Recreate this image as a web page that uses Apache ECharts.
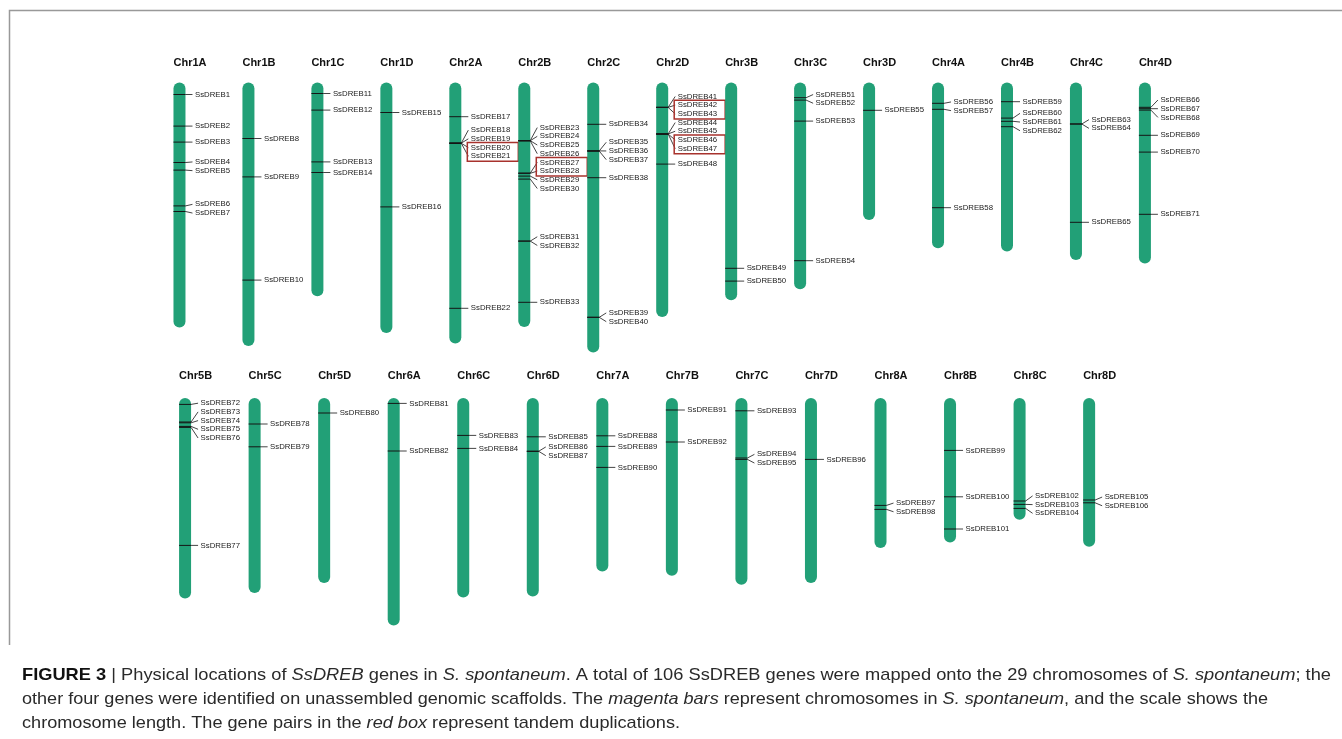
<!DOCTYPE html>
<html>
<head>
<meta charset="utf-8">
<title>SsDREB chromosome map</title>
<script src="https://cdn.jsdelivr.net/npm/echarts@6/dist/echarts.min.js"></script>
<style>
  html, body { margin: 0; padding: 0; background: #fff; }
  #main { width: 1342px; height: 739px; }
</style>
</head>
<body>
<div id="main"></div>
<script>
// chromosomes of the first row and their lengths (Mb)
const chrTop = ['Chr1A', 'Chr1B', 'Chr1C', 'Chr1D', 'Chr2A', 'Chr2B', 'Chr2C', 'Chr2D',
  'Chr3B', 'Chr3C', 'Chr3D', 'Chr4A', 'Chr4B', 'Chr4C', 'Chr4D'];
const lenTop = [122.5, 131.7, 106.9, 125.2, 130.5, 122.2, 135.0, 117.2,
  108.9, 103.4, 68.7, 82.9, 84.5, 88.7, 90.5];

// chromosomes of the second row
const chrBottom = ['Chr5B', 'Chr5C', 'Chr5D', 'Chr6A', 'Chr6C', 'Chr6D', 'Chr7A',
  'Chr7B', 'Chr7C', 'Chr7D', 'Chr8A', 'Chr8B', 'Chr8C', 'Chr8D'];
const lenBottom = [100.3, 97.5, 92.5, 113.8, 99.7, 99.2, 86.7,
  88.9, 93.4, 92.5, 75.0, 72.2, 60.9, 74.4];

// SsDREB1 ... SsDREB106 : chromosome and position (Mb)
const geneChr = [
  'Chr1A', 'Chr1A', 'Chr1A', 'Chr1A', 'Chr1A', 'Chr1A', 'Chr1A',
  'Chr1B', 'Chr1B', 'Chr1B',
  'Chr1C', 'Chr1C', 'Chr1C', 'Chr1C',
  'Chr1D', 'Chr1D',
  'Chr2A', 'Chr2A', 'Chr2A', 'Chr2A', 'Chr2A', 'Chr2A',
  'Chr2B', 'Chr2B', 'Chr2B', 'Chr2B', 'Chr2B', 'Chr2B', 'Chr2B', 'Chr2B', 'Chr2B', 'Chr2B', 'Chr2B',
  'Chr2C', 'Chr2C', 'Chr2C', 'Chr2C', 'Chr2C', 'Chr2C', 'Chr2C',
  'Chr2D', 'Chr2D', 'Chr2D', 'Chr2D', 'Chr2D', 'Chr2D', 'Chr2D', 'Chr2D',
  'Chr3B', 'Chr3B',
  'Chr3C', 'Chr3C', 'Chr3C', 'Chr3C',
  'Chr3D',
  'Chr4A', 'Chr4A', 'Chr4A',
  'Chr4B', 'Chr4B', 'Chr4B', 'Chr4B',
  'Chr4C', 'Chr4C', 'Chr4C',
  'Chr4D', 'Chr4D', 'Chr4D', 'Chr4D', 'Chr4D', 'Chr4D',
  'Chr5B', 'Chr5B', 'Chr5B', 'Chr5B', 'Chr5B', 'Chr5B',
  'Chr5C', 'Chr5C',
  'Chr5D',
  'Chr6A', 'Chr6A',
  'Chr6C', 'Chr6C',
  'Chr6D', 'Chr6D', 'Chr6D',
  'Chr7A', 'Chr7A', 'Chr7A',
  'Chr7B', 'Chr7B',
  'Chr7C', 'Chr7C', 'Chr7C',
  'Chr7D',
  'Chr8A', 'Chr8A',
  'Chr8B', 'Chr8B', 'Chr8B',
  'Chr8C', 'Chr8C', 'Chr8C',
  'Chr8D', 'Chr8D'
];
const genePos = [
  6.0, 21.8, 29.8, 40.0, 43.8, 61.7, 64.5,
  28.0, 47.2, 98.8,
  5.5, 13.8, 39.7, 45.0,
  15.0, 62.2,
  17.1, 30.3, 30.3, 30.4, 30.4, 112.9,
  29.0, 29.1, 29.1, 29.2, 45.3, 45.4, 46.8, 48.3, 79.3, 79.3, 109.9,
  20.9, 34.2, 34.2, 34.3, 47.6, 117.4, 117.4,
  12.4, 12.4, 12.5, 25.7, 25.7, 25.8, 25.8, 40.8,
  92.9, 99.3,
  7.6, 8.8, 19.3, 89.1,
  13.9,
  10.4, 13.4, 62.6,
  9.6, 17.8, 19.4, 22.1,
  20.7, 20.8, 69.9,
  12.4, 13.1, 13.8, 26.4, 34.8, 65.9,
  3.2, 12.0, 12.4, 14.2, 14.7, 73.7,
  13.0, 24.4,
  7.5,
  2.7, 26.5,
  18.7, 25.2,
  19.4, 26.6, 26.7,
  18.9, 24.2, 34.7,
  6.0, 22.0,
  6.4, 30.0, 30.7,
  30.7,
  53.7, 55.7,
  26.2, 49.4, 65.5,
  51.5, 53.2, 55.2,
  51.0, 52.4
];

// tandem duplicated gene pairs (red boxes)
const tandemPairs = [[20, 21], [27, 28], [42, 43], [46, 47]];

// caption, one array of [text, style] pieces per line
const captionLines = [
  [['FIGURE 3', 'b'], [' | Physical locations of ', ''], ['SsDREB', 'i'], [' genes in ', ''],
   ['S. spontaneum', 'i'], ['. A total of 106 SsDREB genes were mapped onto the 29 chromosomes of ', ''],
   ['S. spontaneum', 'i'], ['; the', '']],
  [['other four genes were identified on unassembled genomic scaffolds. The ', ''], ['magenta bars', 'i'],
   [' represent chromosomes in ', ''], ['S. spontaneum', 'i'], [', and the scale shows the', '']],
  [['chromosome length. The gene pairs in the ', ''], ['red box', 'i'], [' represent tandem duplications.', '']]
];

const barColor = '#22a077';
const labelFont = 'Liberation Sans';
const labelGap = 8.7;

// spread labels of one chromosome so that they do not overlap
function layoutLabels(genes) {
  const groups = [];
  genes.forEach(g => {
    groups.push({items: [g], sum: g.y});
    while (groups.length > 1) {
      const cur = groups[groups.length - 1];
      const prev = groups[groups.length - 2];
      const curStart = cur.sum / cur.items.length - (cur.items.length - 1) * labelGap / 2;
      const prevEnd = prev.sum / prev.items.length + (prev.items.length - 1) * labelGap / 2;
      if (prevEnd + labelGap > curStart) {
        prev.items = prev.items.concat(cur.items);
        prev.sum += cur.sum;
        groups.pop();
      } else {
        break;
      }
    }
  });
  groups.forEach(gr => {
    const start = gr.sum / gr.items.length - (gr.items.length - 1) * labelGap / 2;
    gr.items.forEach((g, k) => { g.ly = start + k * labelGap; });
  });
}

function makeRender(names, titleOffset) {
  return function (params, api) {
    const cat = api.value(0);
    const len = api.value(1);
    const name = names[params.dataIndex];
    const top = api.coord([cat, 0]);
    const bot = api.coord([cat, len]);
    const cx = top[0];
    const children = [];
    children.push({
      type: 'rect',
      shape: {x: cx - 6, y: top[1], width: 12, height: bot[1] - top[1], r: 6},
      style: {fill: barColor}
    });
    children.push({
      type: 'text',
      style: {
        text: name, x: cx - 6, y: top[1] + titleOffset, fill: '#111',
        fontFamily: labelFont, fontSize: 11, fontWeight: 'bold', verticalAlign: 'middle'
      }
    });

    const genes = [];
    geneChr.forEach((c, i) => {
      if (c === name) genes.push({id: i + 1, y: api.coord([cat, genePos[i]])[1]});
    });
    genes.sort((a, b) => a.y - b.y);
    layoutLabels(genes);

    genes.forEach(g => {
      children.push({
        type: 'line',
        shape: {x1: cx - 6, y1: g.y, x2: cx + 6, y2: g.y},
        style: {stroke: '#151515', lineWidth: 1}
      });
      children.push({
        type: 'polyline',
        shape: {points: [[cx + 6, g.y], [cx + 13, g.ly]]},
        style: {stroke: '#151515', lineWidth: 0.8, fill: null}
      });
      children.push({
        type: 'text',
        style: {
          text: 'SsDREB' + g.id, x: cx + 15.5, y: g.ly, fill: '#1a1a1a',
          fontFamily: labelFont, fontSize: 7.8, verticalAlign: 'middle'
        }
      });
    });

    tandemPairs.forEach(p => {
      const a = genes.find(g => g.id === p[0]);
      const b = genes.find(g => g.id === p[1]);
      if (a && b) {
        children.push({
          type: 'rect',
          shape: {x: cx + 12, y: a.ly - 5, width: 51, height: b.ly - a.ly + 10},
          style: {fill: null, stroke: '#a8322d', lineWidth: 1.5}
        });
      }
    });
    return {type: 'group', children: children};
  };
}

// caption lines are stretched to the width they have in the figure
const captionSize = 17;
const captionFamily = 'Liberation Sans';
const captionWidths = [1309, 1246, 658];
const captionY = [675, 699.5, 723.5];
const measureCtx = document.createElement('canvas').getContext('2d');

function captionGraphic(line, k) {
  let w = 0;
  let text = '';
  line.forEach(seg => {
    const st = seg[1];
    measureCtx.font = (st === 'i' ? 'italic ' : '') + (st === 'b' ? 'bold ' : '') +
      captionSize + 'px "' + captionFamily + '"';
    w += measureCtx.measureText(seg[0]).width;
    text += st ? '{' + st + '|' + seg[0] + '}' : seg[0];
  });
  return {
    type: 'text',
    x: 22,
    y: captionY[k],
    scaleX: captionWidths[k] / w,
    silent: true,
    style: {
      text: text, x: 0, y: 0, fill: '#2a2a2a',
      fontFamily: captionFamily, fontSize: captionSize, verticalAlign: 'middle',
      rich: {
        b: {fontWeight: 'bold', fill: '#111', fontSize: captionSize, fontFamily: captionFamily},
        i: {fontStyle: 'italic', fontSize: captionSize, fontFamily: captionFamily}
      }
    }
  };
}

const chart = echarts.init(document.getElementById('main'), null, {renderer: 'canvas'});

const option = {
  backgroundColor: '#fff',
  animation: false,
  grid: [
    {left: 145, top: 82.5, width: 1034.4, height: 280},
    {left: 150.3, top: 398, width: 973.6, height: 280}
  ],
  xAxis: [
    {type: 'category', gridIndex: 0, data: chrTop, show: false},
    {type: 'category', gridIndex: 1, data: chrBottom, show: false}
  ],
  yAxis: [
    {type: 'value', gridIndex: 0, inverse: true, min: 0, max: 140, show: false},
    {type: 'value', gridIndex: 1, inverse: true, min: 0, max: 140, show: false}
  ],
  series: [
    {
      type: 'custom', xAxisIndex: 0, yAxisIndex: 0, silent: true, clip: false,
      data: lenTop.map((l, i) => [i, l]),
      renderItem: makeRender(chrTop, -19.5)
    },
    {
      type: 'custom', xAxisIndex: 1, yAxisIndex: 1, silent: true, clip: false,
      data: lenBottom.map((l, i) => [i, l]),
      renderItem: makeRender(chrBottom, -22)
    }
  ],
  graphic: [
    {type: 'polyline', silent: true, shape: {points: [[9.5, 645], [9.5, 10.5], [1342, 10.5]]},
      style: {stroke: '#999', lineWidth: 1.5, fill: null}}
  ].concat(captionLines.map(captionGraphic))
};

chart.setOption(option);
</script>
</body>
</html>
